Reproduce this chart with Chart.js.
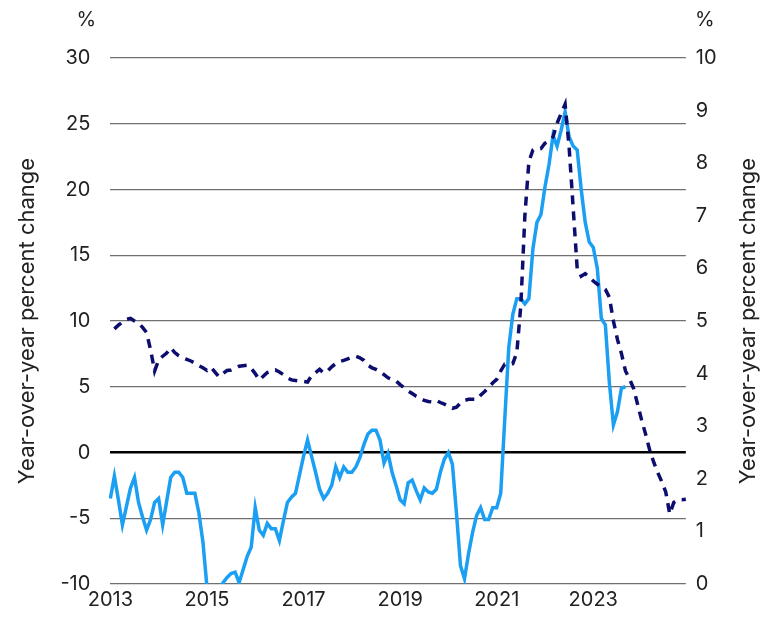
<!DOCTYPE html>
<html>
<head>
<meta charset="utf-8">
<script src="https://cdn.jsdelivr.net/npm/chart.js@4"></script>
<style>
  html, body { margin: 0; padding: 0; background: #fff; }
  #wrap { width: 763px; height: 620px; }
</style>
</head>
<body>
<div id="wrap"><canvas id="chart"></canvas></div>
<script>
// monthly, Jan 2013 .. Dec 2024
var firstYear = 2013;
var lastYear = 2024;
var yearLabels = ['2013', '2015', '2017', '2019', '2021', '2023'];

// solid line, left axis (%)
var solidSeries = [
  -3.5, -1.8, -3.6, -5.5, -4.1, -2.7, -1.9, -3.8, -4.9, -5.9, -5.1, -3.8,
  -3.5, -5.5, -3.7, -1.9, -1.5, -1.5, -1.9, -3.1, -3.1, -3.1, -4.6, -6.8,
  -10.2, -10.4, -10.5, -10.4, -9.9, -9.5, -9.2, -9.1, -9.9, -8.9, -7.9, -7.2,
  -4.2, -5.9, -6.3, -5.4, -5.8, -5.8, -6.7, -5.2, -3.8, -3.4, -3.1, -1.7,
  -0.3, 0.95, -0.3, -1.5, -2.8, -3.5, -3.1, -2.5, -1.1, -1.9, -1.1, -1.5,
  -1.5, -1.1, -0.4, 0.6, 1.4, 1.7, 1.7, 0.95, -0.8, -0.06, -1.5, -2.5,
  -3.6, -3.9, -2.3, -2.1, -2.9, -3.6, -2.7, -3.0, -3.1, -2.8, -1.5, -0.5,
  0.0, -0.9, -4.6, -8.6, -9.6, -7.7, -6.1, -4.8, -4.2, -5.1, -5.1, -4.2,
  -4.2, -3.1, 2.5, 8.0, 10.5, 11.7, 11.7, 11.3, 11.7, 15.5, 17.5, 18.1,
  20.2, 21.9, 24.1, 23.3, 24.5, 25.9, 24.0, 23.3, 23.0, 20.0, 17.5, 16.0,
  15.6, 14.0, 10.2, 9.7, 5.3, 2.1, 3.1, 4.9, 5.0
];

// dashed line, right axis (%)
var dashedSeries = [
  null, 4.85, 4.92, 4.98, 5.03, 5.05, 5.0, 4.96, 4.88, 4.78, 4.45, 4.05,
  4.26, 4.33, 4.39, 4.49, 4.4, 4.34, 4.3, 4.27, 4.24, 4.2, 4.15, 4.11,
  4.06, 4.12, 4.03, 3.94, 4.0, 4.06, 4.07, 4.1, 4.14, 4.15, 4.16, 4.1,
  4.0, 3.88, 3.95, 4.02, 4.05, 4.07, 4.03, 3.98, 3.92, 3.88, 3.87, 3.86,
  3.85, 3.84, 3.96, 4.02, 4.08, 4.01, 4.05, 4.13, 4.19, 4.23, 4.25, 4.28,
  4.31, 4.33, 4.3, 4.25, 4.16, 4.11, 4.08, 4.04, 3.98, 3.92, 3.89, 3.86,
  3.79, 3.73, 3.67, 3.62, 3.57, 3.53, 3.49, 3.47, 3.46, 3.49, 3.45, 3.42,
  3.38, 3.34, 3.36, 3.44, 3.49, 3.51, 3.51, 3.51, 3.59, 3.66, 3.74, 3.82,
  3.89, 4.05, 4.18, 4.18, 4.19, 4.4, 5.3, 7.0, 8.03, 8.25, 8.28, 8.28,
  8.38, 8.42, 8.5, 8.76, 8.94, 9.12, 8.3, 7.15, 6.0, 5.85, 5.9, 5.84,
  5.76, 5.7, 5.66, 5.6, 5.45, 5.0, 4.65, 4.38, 4.05, 3.9, 3.72, 3.42,
  3.12, 2.85, 2.55, 2.32, 2.12, 1.95, 1.75, 1.33, 1.55, 1.6, 1.6, 1.61
];

var months = [];
for (var y = firstYear; y <= lastYear; y++) {
  for (var m = 1; m <= 12; m++) {
    months.push(y + '-' + (m < 10 ? '0' + m : m));
  }
}

var FONT = 'Inter, "DejaVu Sans", sans-serif';
var TEXT = '#222';
var axisTitle = 'Year-over-year percent change';

// draws the two "%" units and the right hand axis title (reads bottom to top)
var extras = {
  id: 'extras',
  afterDraw: function (chart) {
    var c = chart.ctx;
    var left = chart.scales.y;
    var right = chart.scales.y2;
    c.save();
    c.fillStyle = TEXT;
    c.textAlign = 'center';
    c.textBaseline = 'middle';
    c.font = '20px ' + FONT;
    c.fillText('%', left.right - 24, 20);
    c.fillText('%', right.left + 19, 20);
    c.font = '22px ' + FONT;
    c.translate(right.right - 10, (chart.chartArea.top + chart.chartArea.bottom) / 2);
    c.rotate(-Math.PI / 2);
    c.fillText(axisTitle, 0, 0);
    c.restore();
  }
};

var ctx = document.getElementById('chart').getContext('2d');
var chart = new Chart(ctx, {
  type: 'line',
  data: {
    labels: months,
    datasets: [
      {
        label: 'solid',
        data: solidSeries,
        yAxisID: 'y',
        borderColor: '#1a9ff2',
        borderWidth: 3.5,
        pointRadius: 0,
        tension: 0,
        order: 2
      },
      {
        label: 'dashed',
        data: dashedSeries,
        yAxisID: 'y2',
        borderColor: '#0c0d6e',
        borderWidth: 3.5,
        borderDash: [9, 7],
        pointRadius: 0,
        tension: 0,
        order: 1
      }
    ]
  },
  options: {
    responsive: true,
    maintainAspectRatio: false,
    animation: false,
    layout: { padding: { top: 58, left: 14, right: 5, bottom: 4 } },
    plugins: {
      legend: { display: false },
      tooltip: { enabled: false }
    },
    scales: {
      x: {
        type: 'category',
        offset: false,
        grid: { display: false, drawTicks: false },
        border: { display: false },
        ticks: {
          autoSkip: false,
          maxRotation: 0,
          minRotation: 0,
          padding: 4,
          color: TEXT,
          font: { family: FONT, size: 20 },
          callback: function (val, i) {
            var lab = months[i];
            var yr = lab.slice(0, 4);
            if (lab.slice(5) === '01' && yearLabels.indexOf(yr) >= 0) return yr;
            return '';
          }
        }
      },
      y: {
        position: 'left',
        min: -10,
        max: 30,
        border: { display: false },
        grid: {
          drawTicks: false,
          color: function (c) { return c.tick.value === 0 ? '#000' : '#707070'; },
          lineWidth: function (c) { return c.tick.value === 0 ? 2.5 : 1.2; }
        },
        ticks: {
          stepSize: 5,
          padding: 20,
          color: TEXT,
          font: { family: FONT, size: 20 }
        },
        title: {
          display: true,
          text: axisTitle,
          color: TEXT,
          font: { family: FONT, size: 22 },
          padding: { top: 0, bottom: 0 }
        }
      },
      y2: {
        position: 'right',
        min: 0,
        max: 10,
        border: { display: false },
        grid: { display: false, drawTicks: false },
        ticks: {
          stepSize: 1,
          padding: 10,
          color: TEXT,
          font: { family: FONT, size: 20 }
        },
        title: {
          display: true,
          text: axisTitle,
          color: 'rgba(0,0,0,0)',
          font: { family: FONT, size: 22 },
          padding: { top: 5, bottom: 0 }
        }
      }
    }
  },
  plugins: [extras]
});
</script>
</body>
</html>
